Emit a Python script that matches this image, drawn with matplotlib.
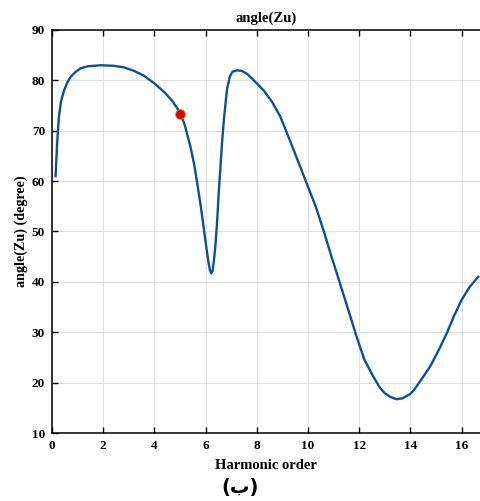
import matplotlib
matplotlib.use("Agg")
import matplotlib.pyplot as plt

# values
harmonic = [0.14, 0.2, 0.27, 0.35, 0.47, 0.6, 0.73, 0.9, 1.12, 1.4, 1.9, 2.4,
            2.8, 3.2, 3.6, 4.0, 4.4, 4.7, 5.02, 5.2, 5.41, 5.55, 5.66, 5.8,
            5.92, 6.02, 6.11, 6.17, 6.22, 6.27, 6.32, 6.38, 6.45, 6.51, 6.58,
            6.64, 6.72, 6.84, 6.95, 7.05, 7.23, 7.4, 7.62, 7.9, 8.27, 8.6,
            8.92, 9.3, 9.7, 9.95, 10.3, 10.6, 10.9, 11.25, 11.6, 11.9, 12.2,
            12.55, 12.82, 13.0, 13.2, 13.46, 13.7, 13.98, 14.12, 14.4, 14.77,
            15.1, 15.42, 15.7, 16.0, 16.3, 16.65]
angle_zu = [61.0, 67.5, 72.8, 75.8, 78.0, 79.6, 80.7, 81.6, 82.4, 82.8, 83.0,
            82.9, 82.6, 81.9, 80.9, 79.4, 77.6, 75.9, 73.5, 70.9, 66.8, 63.4,
            60.0, 55.4, 51.0, 47.2, 44.0, 42.3, 41.7, 42.1, 44.0, 47.0, 52.0,
            57.5, 62.8, 67.5, 72.5, 78.4, 80.8, 81.7, 82.0, 81.9, 81.3, 79.9,
            78.0, 75.7, 72.8, 68.0, 62.8, 59.5, 55.0, 50.3, 45.3, 39.7, 34.0,
            29.1, 24.6, 21.2, 18.9, 17.9, 17.2, 16.7, 16.9, 17.7, 18.4, 20.4,
            23.2, 26.4, 29.8, 33.2, 36.4, 38.9, 41.0]
marker_x = [5.0]
marker_y = [73.4]
xticks = [0, 2, 4, 6, 8, 10, 12, 14, 16]
yticks = [10, 20, 30, 40, 50, 60, 70, 80, 90]

plt.rcParams['font.family'] = ['Liberation Serif', 'DejaVu Serif']
plt.rcParams['font.weight'] = 'bold'

fig = plt.figure(figsize=(4.8, 5.01), dpi=100)
ax = fig.add_axes([52 / 480, 68 / 501, 428 / 480, 403 / 501])

ax.plot(harmonic, angle_zu, color='#0a5296', linewidth=1.7, zorder=3)
ax.plot(marker_x, marker_y, 'o', color='#e00000', markeredgecolor='#f08000',
        markeredgewidth=0.6, markersize=7, zorder=4)

ax.set_xlim(0, 428 / 25.6)
ax.set_ylim(10, 90)
ax.set_xticks(xticks)
ax.set_yticks(yticks)
ax.grid(True, color='#dedede', linewidth=0.7)
ax.set_axisbelow(True)
ax.tick_params(direction='in', top=True, length=4, width=1,
               labelsize=9.5, pad=5)
for lab in ax.get_xticklabels() + ax.get_yticklabels():
    lab.set_fontweight('bold')
ax.spines['right'].set_visible(False)
for s in ['left', 'bottom', 'top']:
    ax.spines[s].set_linewidth(1.1)

ax.set_title('angle(Zu)', fontsize=10.5, fontweight='bold', pad=6)
ax.set_xlabel('Harmonic order', fontsize=10.5, fontweight='bold', labelpad=5)
ax.set_ylabel('angle(Zu) (degree)', fontsize=10.2, fontweight='bold', labelpad=3)

fig.text(0.5, 0.027, '(ب)', ha='center', va='center', fontsize=14,
         family=['DejaVu Sans'])

fig.savefig('out.png', dpi=100)
